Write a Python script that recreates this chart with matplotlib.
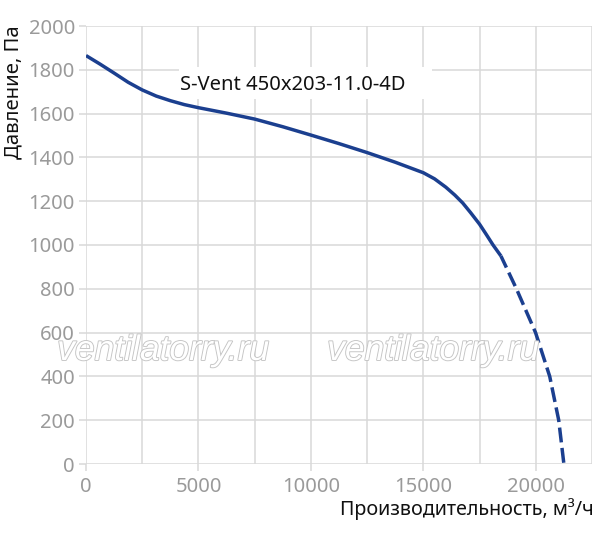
import matplotlib
matplotlib.use("Agg")
import matplotlib.pyplot as plt
from matplotlib.patches import Rectangle
import matplotlib.patheffects as pe

# Data
solid_x = [0, 625, 1250, 1875, 2500, 3125, 3750, 4375, 5000, 6250, 7500, 8750,
           10000, 11250, 12500, 13750, 15000, 15500, 16000, 16400, 16750, 17100,
           17500, 17800, 18100, 18450]
solid_y = [1865, 1826, 1785, 1743, 1708, 1680, 1659, 1641, 1627, 1602, 1575, 1540,
           1502, 1463, 1422, 1378, 1330, 1302, 1264, 1228, 1192, 1148,
           1095, 1048, 1000, 950]
dash_x = [18450, 19140, 19990, 20620, 21020, 21250]
dash_y = [950, 800, 600, 400, 200, 0]

x_major = [0, 5000, 10000, 15000, 20000]
x_minor = [2500, 7500, 12500, 17500, 22500]
y_ticks = list(range(0, 2001, 200))

model_label = "S-Vent 450x203-11.0-4D"
xlabel = "Производительность, м³/ч"
ylabel = "Давление, Па"
watermark = "ventilatorry.ru"

FONT = ["Noto Sans", "DejaVu Sans"]
plt.rcParams['font.family'] = FONT

W, H = 597, 538
fig = plt.figure(figsize=(W / 100, H / 100), dpi=100)
ax = fig.add_axes([86 / W, (H - 464) / H, 506 / W, 438 / H])

line_color = '#1b3f8f'
grid_color = '#d9d9d9'
tick_color = '#9a9a9a'

ax.set_xlim(0, 22500)
ax.set_ylim(0, 2000)
ax.set_xticks(x_major)
ax.set_xticks(x_minor, minor=True)
ax.set_yticks(y_ticks)
ax.set_axisbelow(True)
ax.grid(True, which='both', color=grid_color, linewidth=1.1)
for s in ax.spines.values():
    s.set_visible(False)
ax.tick_params(axis='both', which='major', length=5, width=1.1, color=grid_color,
               labelcolor=tick_color, labelsize=14.5, pad=3)
ax.tick_params(axis='x', which='minor', length=0)
ax.tick_params(axis='x', which='major', pad=4)

ax.plot(solid_x, solid_y, color=line_color, linewidth=2.5, solid_capstyle='butt',
        solid_joinstyle='round', zorder=3)
ax.plot(dash_x, dash_y, color=line_color, linewidth=2.5, linestyle=(0.6, (4.3, 1.6)),
        dash_capstyle='butt', zorder=3)

# label box
ax.add_patch(Rectangle((0.183, 0.833), 0.501, 0.073, transform=ax.transAxes,
                       facecolor='white', edgecolor='none', zorder=1))
ax.text(0.186, 0.865, model_label, transform=ax.transAxes, ha='left', va='center',
        fontsize=14.5, color='#111111', zorder=4)

# watermarks
for cx in (163, 433):
    fig.text(cx / W, (H - 360) / H, watermark, ha='center', va='baseline',
             fontsize=25.5, style='italic', family=['Liberation Sans'], color='white',
             path_effects=[pe.withStroke(linewidth=1.3, foreground='#c4c4c4')], zorder=5)

fig.text(13 / W, 1 - 25 / H, ylabel, rotation=90, ha='center', va='top',
         fontsize=14.6, color='#111111')
fig.text(594 / W, 1 - 509 / H, xlabel, ha='right', va='center',
         fontsize=14.2, color='#111111')

fig.savefig('out.png', dpi=100)
